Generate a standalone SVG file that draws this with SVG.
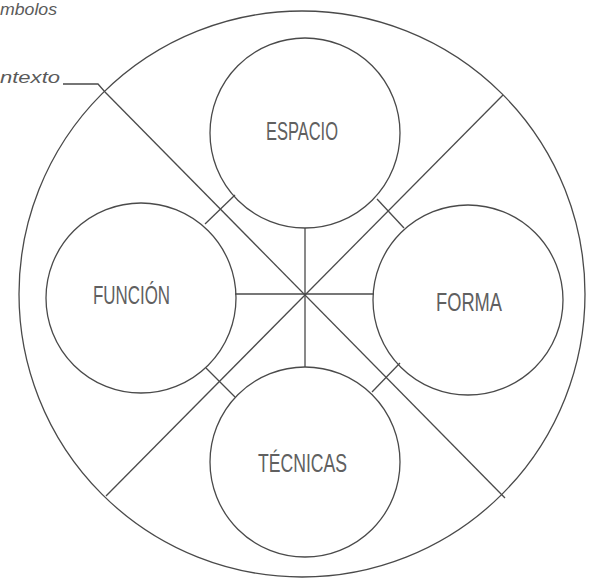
<svg xmlns="http://www.w3.org/2000/svg" width="598" height="580" viewBox="0 0 598 580">
  <style>
    .ln { fill: none; stroke: #4a4a4a; stroke-width: 1.3; }
    .lbl { font-family: "Liberation Sans", Arial, sans-serif; font-size: 26px; fill: #606060; text-anchor: middle; }
    .note { font-family: "Liberation Sans", Arial, sans-serif; font-style: italic; font-size: 17px; fill: #5a5a5a; }
  </style>
  <rect width="598" height="580" fill="#ffffff"/>
  <g id="contexto-outer">
    <circle class="ln" cx="302" cy="294" r="283"/>
  </g>
  <g id="connectors">
    <line class="ln" x1="105" y1="92" x2="505" y2="498"/>
    <line class="ln" x1="503" y1="95" x2="106" y2="496"/>
    <line class="ln" x1="305" y1="228" x2="305" y2="367"/>
    <line class="ln" x1="235" y1="294" x2="374" y2="294"/>
    <line class="ln" x1="205" y1="224" x2="235" y2="195"/>
    <line class="ln" x1="377" y1="199" x2="404" y2="228"/>
    <line class="ln" x1="206" y1="368" x2="235" y2="397"/>
    <line class="ln" x1="372" y1="392" x2="400" y2="363"/>
    <polyline class="ln" points="63,84 98,84 105,92"/>
  </g>
  <g id="espacio">
    <circle class="ln" cx="305" cy="133" r="95"/>
    <text class="lbl" x="302" y="140" textLength="72" lengthAdjust="spacingAndGlyphs">ESPACIO</text>
  </g>
  <g id="funcion">
    <circle class="ln" cx="141" cy="298" r="95"/>
    <text class="lbl" x="131.5" y="304" textLength="77" lengthAdjust="spacingAndGlyphs">FUNCIÓN</text>
  </g>
  <g id="forma">
    <circle class="ln" cx="468" cy="300" r="95"/>
    <text class="lbl" x="469" y="311" textLength="66" lengthAdjust="spacingAndGlyphs">FORMA</text>
  </g>
  <g id="tecnicas">
    <circle class="ln" cx="305" cy="462" r="95"/>
    <text class="lbl" x="302.5" y="472" textLength="89" lengthAdjust="spacingAndGlyphs">TÉCNICAS</text>
  </g>
  <g id="notes">
    <text class="note" x="0" y="15" textLength="57" lengthAdjust="spacingAndGlyphs">mbolos</text>
    <text class="note" x="0" y="83" textLength="60" lengthAdjust="spacingAndGlyphs">ntexto</text>
  </g>
</svg>
